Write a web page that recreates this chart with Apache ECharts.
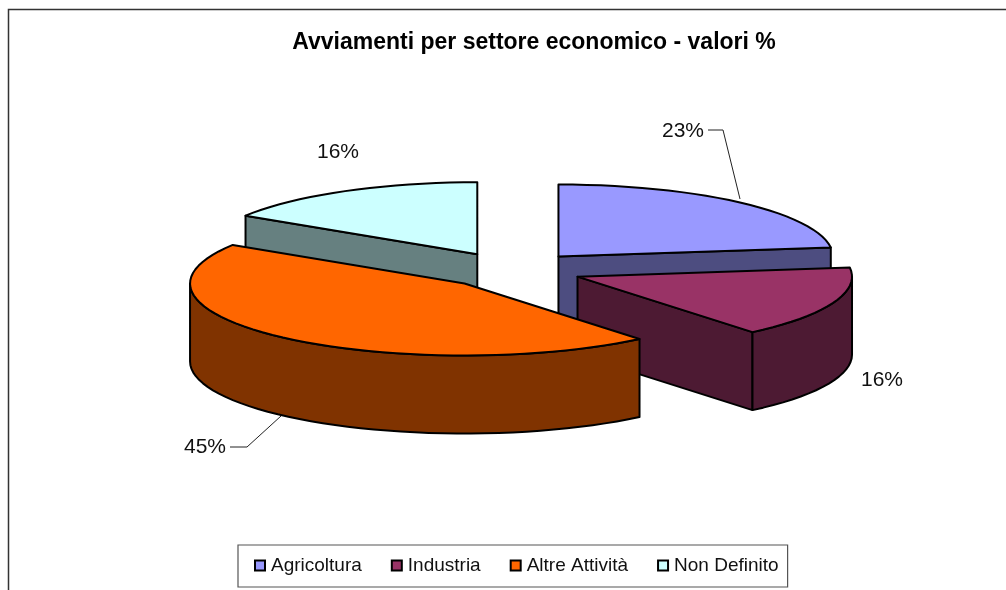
<!DOCTYPE html>
<html><head><meta charset="utf-8">
<style>html,body{margin:0;padding:0;background:#fff}#c{width:1006px;height:590px}</style>
<script src="https://cdn.jsdelivr.net/npm/echarts@6/dist/echarts.min.js"></script>
</head><body><div id="c"></div>
<script>
var categories = ['Agricoltura', 'Industria', 'Altre Attività', 'Non Definito'];
var shares = [23, 16, 45, 16];
var topColors = ['#9999FF', '#993366', '#FF6600', '#CCFFFF'];
var sideColors = ['#4D4D80', '#4D1A33', '#803300', '#668080'];
var drawOrder = [3, 0, 1, 2];

// layout of the tilted pie
var pie = {cx: 511.5, cy: 270, rx: 274.5, ry: 72, depth: 78, explodeX: 71, explodeY: 18};
var labelAt = [[683, 131], [882, 380], [205, 447], [338, 152]];
var leaders = [[[708, 130], [723, 130], [740, 199]], null, [[230, 447], [247, 447], [281, 416]], null];

var total = shares.reduce(function (a, b) { return a + b; }, 0);
var RAD = Math.PI / 180;

function wedgeGeometry(idx) {
  var before = 0;
  for (var i = 0; i < idx; i++) before += shares[i];
  var a0 = before / total * 360, a1 = (before + shares[idx]) / total * 360, mid = (a0 + a1) / 2;
  return {
    a0: a0, a1: a1,
    x: pie.cx + pie.explodeX * Math.sin(mid * RAD),
    y: pie.cy - pie.explodeY * Math.cos(mid * RAD)
  };
}
function rim(g, deg, dz) {
  return [g.x + pie.rx * Math.sin(deg * RAD), g.y - pie.ry * Math.cos(deg * RAD) + (dz || 0)];
}
function arc(g, from, to, dz) {
  var pts = [], n = Math.max(2, Math.ceil(Math.abs(to - from) / 3));
  for (var i = 0; i <= n; i++) pts.push(rim(g, from + (to - from) * i / n, dz));
  return pts;
}
function poly(points, fill) {
  return {type: 'polygon', shape: {points: points}, silent: true,
    style: {fill: fill, stroke: '#000', lineWidth: 2, lineJoin: 'round'}};
}
function renderSlice(idx) {
  return function (params, api) {
    var g = wedgeGeometry(idx), kids = [], side = sideColors[idx], d = pie.depth;
    var apex = [g.x, g.y], apexLow = [g.x, g.y + d];
    [g.a0, g.a1].forEach(function (a, k) {
      var s = Math.sin(a * RAD);
      if ((k === 0 && s < -1e-6) || (k === 1 && s > 1e-6)) {
        kids.push(poly([apex, rim(g, a), rim(g, a, d), apexLow], side));
      }
    });
    var w0 = Math.max(g.a0, 90), w1 = Math.min(g.a1, 270);
    if (w1 > w0) {
      kids.push(poly(arc(g, w0, w1, 0).concat(arc(g, w1, w0, d)), side));
    }
    kids.push(poly([apex].concat(arc(g, g.a0, g.a1, 0)), topColors[idx]));
    if (leaders[idx]) {
      kids.push({type: 'polyline', shape: {points: leaders[idx]}, silent: true,
        style: {fill: null, stroke: '#222', lineWidth: 1}});
    }
    kids.push({type: 'text', x: labelAt[idx][0], y: labelAt[idx][1], silent: true,
      style: {text: api.value(0) + '%', fontFamily: 'Liberation Sans', fontSize: 21,
        fill: '#111', align: 'center', verticalAlign: 'middle'}});
    return {type: 'group', children: kids};
  };
}

var chart = echarts.init(document.getElementById('c'), null, {renderer: 'canvas'});
chart.setOption({
  animation: false,
  backgroundColor: '#fff',
  title: {
    text: 'Avviamenti per settore economico - valori %',
    left: 529, top: 26, textAlign: 'center',
    textStyle: {fontFamily: 'Liberation Sans', fontSize: 23, fontWeight: 'bold', color: '#000'}
  },
  graphic: [{type: 'rect', z: -1, silent: true, shape: {x: 8.5, y: 9.5, width: 1100, height: 700},
    style: {fill: '#fff', stroke: '#333', lineWidth: 1.5}}],
  legend: {
    left: 238, top: 545, orient: 'horizontal',
    data: categories,
    icon: 'rect', itemWidth: 10, itemHeight: 10, itemGap: 29,
    padding: [11, 9, 12, 16],
    backgroundColor: '#fff', borderColor: '#555', borderWidth: 1.2, borderRadius: 0,
    selectedMode: false,
    itemStyle: {borderColor: '#000', borderWidth: 2},
    textStyle: {fontFamily: 'Liberation Sans', fontSize: 19, color: '#111', padding: [0, 0, 0, 1]}
  },
  series: drawOrder.map(function (idx) {
    return {
      type: 'custom', name: categories[idx], coordinateSystem: 'none',
      itemStyle: {color: topColors[idx]},
      data: [[shares[idx]]],
      renderItem: renderSlice(idx)
    };
  })
});
</script></body></html>
